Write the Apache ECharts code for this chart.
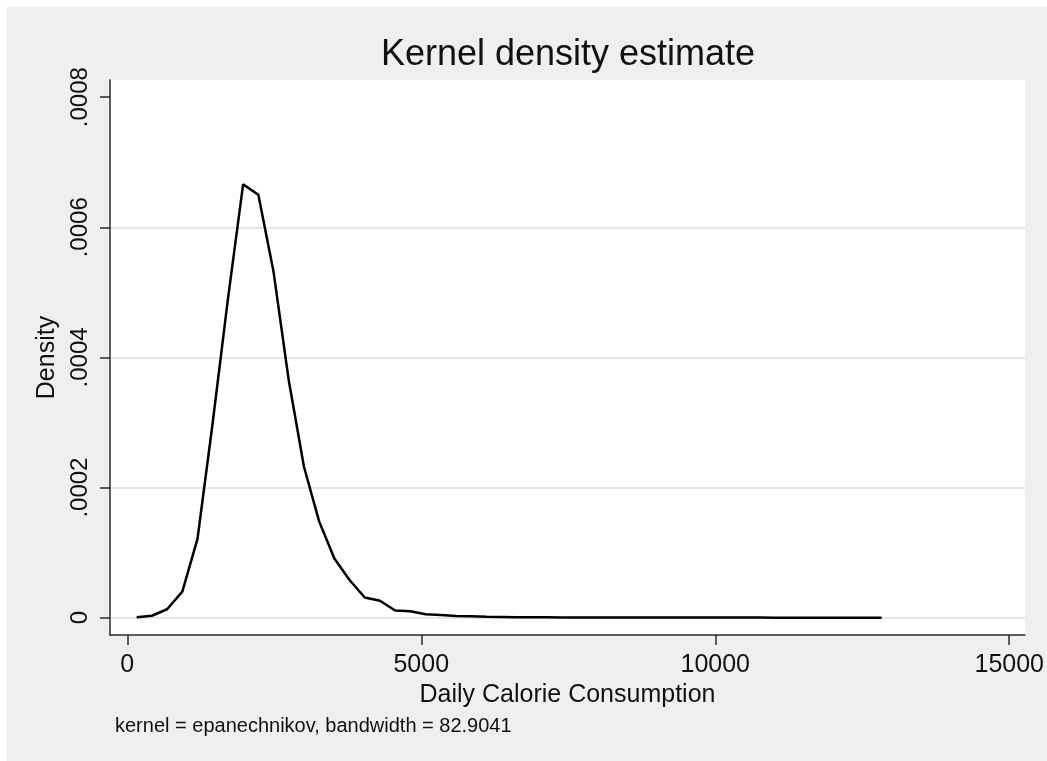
<!DOCTYPE html>
<html>
<head>
<meta charset="utf-8">
<title>Kernel density estimate</title>
<script src="https://cdn.jsdelivr.net/npm/echarts@6/dist/echarts.min.js"></script>
<style>
  html, body { margin: 0; padding: 0; background: #ffffff; }
  #chart { position: absolute; left: 7px; top: 7px; width: 1040px; height: 754px; }
</style>
</head>
<body>
<div id="chart"></div>
<script>
// Evaluation grid of the density estimate (kcal per day)
const calories = [
  160, 419, 677, 936, 1194, 1453, 1712, 1970, 2229, 2487,
  2746, 3005, 3263, 3522, 3780, 4039, 4298, 4556, 4815, 5073,
  5332, 5591, 5849, 6108, 6366, 6625, 6884, 7142, 7401, 7659,
  7918, 8177, 8435, 8694, 8952, 9211, 9470, 9728, 9987, 10245,
  10504, 10763, 11021, 11280, 11538, 11797, 12056, 12314, 12573, 12831
];
// Estimated density at each grid point
const density = [
  0.0000005, 0.0000030, 0.0000130, 0.0000400, 0.0001210, 0.0003000, 0.0004900, 0.0006660, 0.0006500, 0.0005320,
  0.0003650, 0.0002320, 0.0001480, 0.0000910, 0.0000580, 0.0000310, 0.0000260, 0.0000110, 0.0000100, 0.0000052,
  0.0000040, 0.0000027, 0.0000022, 0.0000015, 0.0000012, 0.0000006, 0.0000005, 0.0000005, 0.0000004, 0.0000004,
  0.0000004, 0.0000003, 0.0000003, 0.0000003, 0.0000003, 0.0000002, 0.0000002, 0.0000002, 0.0000002, 0.0000002,
  0.0000002, 0.0000002, 0.0000001, 0.0000001, 0.0000001, 0.0000001, 0.0000001, 0.0000001, 0.0000001, 0.0000001
];
const xTickValues = [0, 5000, 10000, 15000];
const yTickValues = [0, 0.0002, 0.0004, 0.0006, 0.0008];
const yGridValues = [0, 0.0002, 0.0004, 0.0006];

const titleText = 'Kernel density estimate';
const xName = 'Daily Calorie Consumption';
const yName = 'Density';
const noteText = 'kernel = epanechnikov, bandwidth = 82.9041';

const FONT = "'Liberation Sans', Arial, Helvetica, sans-serif";
const INK = '#111111';
const AXIS = '#2a2a2a';

const points = calories.map((c, i) => [c, density[i]]);

// Stata-style: leading zero dropped on the density labels
function densityLabel(v) {
  if (v === 0) return '0';
  return String(v).replace(/^0/, '');
}
function plainNumber(v) {
  return String(v);
}

const chart = echarts.init(document.getElementById('chart'), null, { renderer: 'canvas' });
chart.setOption({
  animation: false,
  backgroundColor: '#efefef',
  grid: {
    left: 103, right: 22, top: 73, bottom: 126,
    show: true, backgroundColor: '#ffffff', borderWidth: 0
  },
  xAxis: {
    type: 'value',
    min: -294, max: 15267,
    name: xName,
    nameLocation: 'middle',
    nameGap: 41,
    nameTextStyle: { fontFamily: FONT, fontSize: 25, color: INK },
    axisLine: { show: true, onZero: false, lineStyle: { color: AXIS, width: 1.5 } },
    axisTick: { show: true, length: 10, customValues: xTickValues, lineStyle: { color: AXIS, width: 1.5 } },
    axisLabel: {
      customValues: xTickValues, margin: 18,
      fontFamily: FONT, fontSize: 25, color: INK, formatter: plainNumber
    },
    splitLine: { show: false }
  },
  yAxis: [
    {
      type: 'value',
      position: 'left',
      min: -0.0000266, max: 0.0008264,
      name: yName,
      nameLocation: 'middle',
      nameGap: 43,
      nameTextStyle: { fontFamily: FONT, fontSize: 25, color: INK },
      axisLine: { show: true, onZero: false, lineStyle: { color: AXIS, width: 1.5 } },
      axisTick: { show: true, length: 10, customValues: yTickValues, lineStyle: { color: AXIS, width: 1.5 } },
      axisLabel: {
        customValues: yTickValues, rotate: 90, margin: 18,
        fontFamily: FONT, fontSize: 24, color: INK, formatter: densityLabel
      },
      splitLine: { show: false }
    },
    {
      // horizontal reference lines only
      type: 'value',
      position: 'right',
      min: -0.0000266, max: 0.0008264,
      axisLine: { show: false },
      axisTick: { show: false, customValues: yGridValues },
      axisLabel: { show: false, customValues: yGridValues },
      splitLine: { show: true, lineStyle: { color: '#e6e6e6', width: 2 } }
    }
  ],
  graphic: [
    {
      type: 'text',
      x: 561,
      y: 48,
      style: {
        text: titleText, fontFamily: FONT, fontSize: 36, fill: INK,
        align: 'center', verticalAlign: 'middle'
      }
    },
    {
      type: 'text',
      left: 108,
      top: 709,
      style: { text: noteText, fontFamily: FONT, fontSize: 20, fill: INK }
    }
  ],
  series: [
    {
      type: 'line',
      yAxisIndex: 0,
      data: points,
      showSymbol: false,
      smooth: false,
      lineStyle: { color: '#000000', width: 2.5 },
      z: 3
    }
  ]
});
</script>
</body>
</html>
